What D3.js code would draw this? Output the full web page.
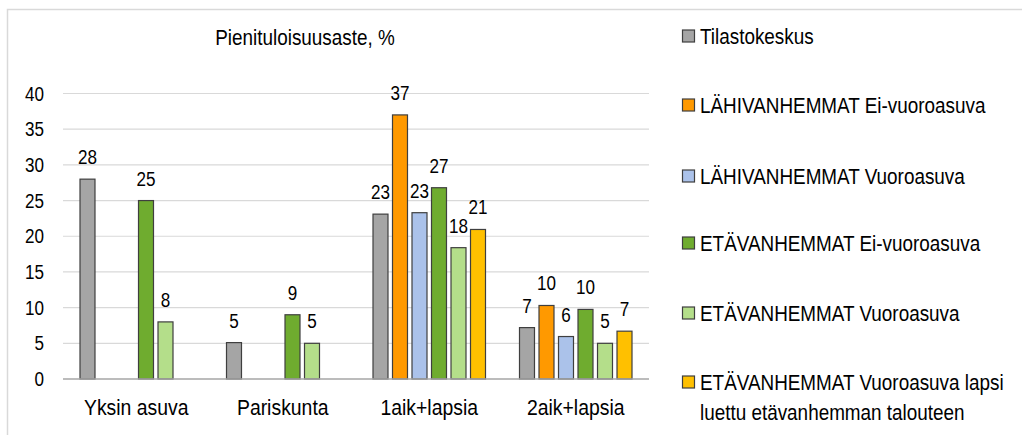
<!DOCTYPE html>
<html lang="fi">
<head>
    <meta charset="UTF-8">
    <title>Pienituloisuusaste, %</title>
    <script src="https://d3js.org/d3.v7.min.js"></script>
    <style>
        body {
            margin: 0;
            background-color: #ffffff;
        }
        svg {
            display: block;
            font-family: 'Liberation Sans', Arial, sans-serif;
        }
    </style>
</head>
<body>
    <svg id="chart" width="1022" height="435"></svg>

    <script>
        const categories = ["Yksin asuva", "Pariskunta", "1aik+lapsia", "2aik+lapsia"];
        const seriesNames = [
            "Tilastokeskus",
            "LÄHIVANHEMMAT Ei-vuoroasuva",
            "LÄHIVANHEMMAT Vuoroasuva",
            "ETÄVANHEMMAT Ei-vuoroasuva",
            "ETÄVANHEMMAT Vuoroasuva",
            "ETÄVANHEMMAT Vuoroasuva lapsi luettu etävanhemman talouteen"
        ];
        const seriesColors = ["#a5a5a5", "#ff9900", "#abc2ea", "#6fac2f", "#b4de8a", "#ffc000"];

        // one array per series, value per category (null = no bar)
        const tilastokeskus = [28, 5.1, 23.1, 7.2];
        const lahiEiVuoro = [null, null, 37, 10.3];
        const lahiVuoro = [null, null, 23.3, 5.95];
        const etaEiVuoro = [25, 9, 26.8, 9.75];
        const etaVuoro = [8, 5, 18.4, 5];
        const etaVuoroLapsi = [null, null, 20.95, 6.7];

        // shown labels (rounded)
        const tilastokeskusLabels = ["28", "5", "23", "7"];
        const lahiEiVuoroLabels = [null, null, "37", "10"];
        const lahiVuoroLabels = [null, null, "23", "6"];
        const etaEiVuoroLabels = ["25", "9", "27", "10"];
        const etaVuoroLabels = ["8", "5", "18", "5"];
        const etaVuoroLapsiLabels = [null, null, "21", "7"];

        const yTicks = [0, 5, 10, 15, 20, 25, 30, 35, 40];

        const seriesValues = [tilastokeskus, lahiEiVuoro, lahiVuoro, etaEiVuoro, etaVuoro, etaVuoroLapsi];
        const seriesLabels = [tilastokeskusLabels, lahiEiVuoroLabels, lahiVuoroLabels, etaEiVuoroLabels, etaVuoroLabels, etaVuoroLapsiLabels];

        const svg = d3.select("#chart");

        // text in the original is a bit taller than it is wide, so squeeze x
        function addText(g, x, y, txt, size, wide, anchor) {
            return g.append("text")
                .attr("transform", `translate(${x},${y}) scale(${wide / size},1)`)
                .attr("text-anchor", anchor || "start")
                .style("font-size", size + "px")
                .style("fill", "#000")
                .text(txt);
        }

        // outer frame
        svg.append("rect")
            .attr("x", 7.5).attr("y", 9.5)
            .attr("width", 1100).attr("height", 500)
            .style("fill", "none")
            .style("stroke", "#d9d9d9")
            .style("stroke-width", 1.5);

        const x0 = d3.scaleBand().domain(categories).range([63, 649]);
        const x1 = d3.scaleBand().domain(d3.range(seriesNames.length))
            .range([0, x0.bandwidth()])
            .paddingInner(0.18)
            .paddingOuter(0.846);
        const y = d3.scaleLinear().domain([0, 40]).range([379, 93.5]);

        // gridlines
        svg.append("g").selectAll("line")
            .data(yTicks.filter(d => d > 0))
            .enter()
            .append("line")
            .attr("x1", 63).attr("x2", 649)
            .attr("y1", d => y(d)).attr("y2", d => y(d))
            .style("stroke", "#d9d9d9")
            .style("stroke-width", 1.2);

        // y tick labels
        const yLab = svg.append("g");
        yTicks.forEach(t => addText(yLab, 44, y(t) + 7, t, 19.7, 17.1, "end"));

        // bars
        const bars = [];
        seriesValues.forEach((vals, si) => {
            vals.forEach((v, ci) => {
                if (v === null) return;
                bars.push({ s: si, c: categories[ci], v: v, label: seriesLabels[si][ci] });
            });
        });

        svg.append("g").selectAll("rect")
            .data(bars)
            .enter()
            .append("rect")
            .attr("x", d => x0(d.c) + x1(d.s) + 0.5)
            .attr("y", d => y(d.v))
            .attr("width", x1.bandwidth() - 1)
            .attr("height", d => y(0) - y(d.v))
            .style("fill", d => seriesColors[d.s])
            .style("stroke", "#3f3f3f")
            .style("stroke-width", 1.2);

        // baseline
        svg.append("line")
            .attr("x1", 63).attr("x2", 649)
            .attr("y1", y(0)).attr("y2", y(0))
            .style("stroke", "#a6a6a6")
            .style("stroke-width", 1.5);

        // data labels
        const dl = svg.append("g");
        bars.forEach(d => {
            addText(dl, x0(d.c) + x1(d.s) + x1.bandwidth() / 2, y(d.v) - 15, d.label, 19.7, 17.1, "middle");
        });

        // category labels
        const cl = svg.append("g");
        categories.forEach(c => addText(cl, x0(c) + x0.bandwidth() / 2, 415, c, 22.3, 19.4, "middle"));

        // title
        addText(svg, 305, 45, "Pienituloisuusaste, %", 21.7, 18.9, "middle");

        // legend
        const legendY = [36, 105, 176, 243, 313, 382];
        const lg = svg.append("g");
        seriesNames.forEach((name, i) => {
            lg.append("rect")
                .attr("x", 682.5).attr("y", legendY[i] - 6)
                .attr("width", 12).attr("height", 12)
                .style("fill", seriesColors[i])
                .style("stroke", "#3f3f3f")
                .style("stroke-width", 1.2);
            if (i === 5) {
                addText(lg, 700, legendY[i] + 7.5, "ETÄVANHEMMAT Vuoroasuva lapsi", 21.7, 18.9);
                addText(lg, 700, legendY[i] + 37.5, "luettu etävanhemman talouteen", 21.7, 18.9);
            } else {
                addText(lg, 700, legendY[i] + 7.5, name, 21.7, 18.9);
            }
        });
    </script>
</body>
</html>
